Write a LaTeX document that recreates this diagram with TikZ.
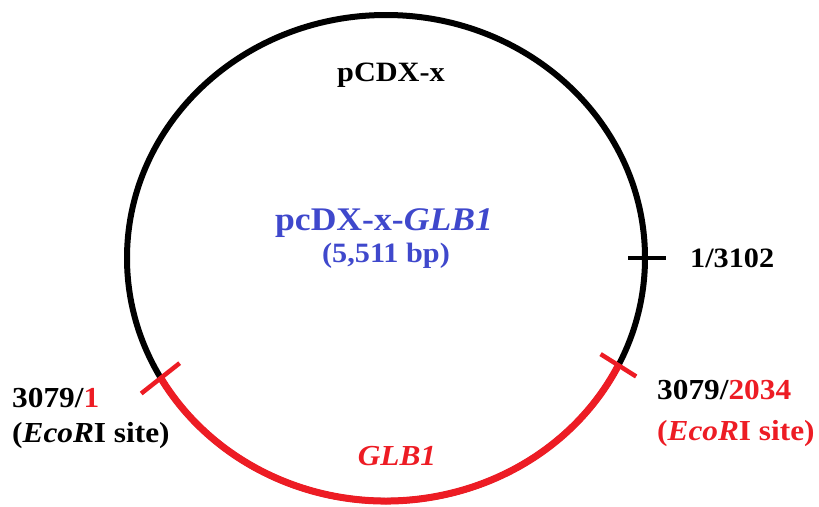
\documentclass[tikz,border=0pt]{standalone}
\usepackage{graphicx}
\usepackage{fontspec}
\setmainfont{Liberation Serif}
\usetikzlibrary{calc}
\definecolor{genered}{HTML}{ED1C24}
\definecolor{titleblue}{HTML}{3F48CC}
% slightly widened lettering
\newcommand{\hstretch}[1]{\scalebox{1.08}[1]{#1}}
\begin{document}
\begin{tikzpicture}[x=1pt,y=-1pt,
  lbl/.style={inner sep=0pt, anchor=base},
  txtsize/.style={font=\fontsize{#1}{#1}\selectfont\bfseries},
  backbone/.style={line width=6pt, black},
  insert/.style={line width=7pt, genered},
  blacktick/.style={line width=4.5pt, black},
  redtick/.style={line width=4.5pt, genered}]
\useasboundingbox (0,0) rectangle (819,506);

% plasmid backbone
\coordinate (c) at (386,258);
\draw[backbone] (c) ellipse[x radius=259, y radius=243];

% positions on the ring
\coordinate (p0) at ($(c)+(0:259 and 243)$);
\coordinate (pR) at ($(c)+(26.2:259 and 243)$);
\coordinate (pL) at ($(c)+(150.4:259 and 243)$);

% GLB1 insert between the two EcoRI sites
\draw[insert] (pR) arc[start angle=26.2, end angle=150.4, x radius=259, y radius=243];

% site marks
\draw[blacktick] ($(p0)+(180:17)$) -- ($(p0)+(0:21)$);
\draw[redtick] ($(pR)+(212.2:21)$) -- ($(pR)+(32.2:21)$);
\draw[redtick] ($(pL)+(141.7:25)$) -- ($(pL)+(-38.3:24)$);

% labels
\node[lbl, txtsize=28] (vec) at (391,81) {\hstretch{pCDX-x}};
\node[lbl, txtsize=33, text=titleblue] (name) at (384,230) {\hstretch{pcDX-x-\textit{GLB1}}};
\node[lbl, txtsize=28, text=titleblue] (len) at (386,262) {\hstretch{(5,511 bp)}};
\node[lbl, anchor=base west, txtsize=28] (m0) at (690,267) {\hstretch{1/3102}};
\node[lbl, anchor=base west, txtsize=29] (mLa) at (12,407) {\hstretch{3079/\textcolor{genered}{1}}};
\node[lbl, anchor=base west, txtsize=29] (mLb) at (12,442) {\hstretch{(\textit{EcoR}I site)}};
\node[lbl, anchor=base west, txtsize=29] (mRa) at (657,399) {\hstretch{3079/\textcolor{genered}{2034}}};
\node[lbl, anchor=base west, txtsize=29, text=genered] (mRb) at (657,440) {\hstretch{(\textit{EcoR}I site)}};
\node[lbl, txtsize=29, text=genered] (gene) at (397,465) {\hstretch{\textit{GLB1}}};
\end{tikzpicture}
\end{document}
